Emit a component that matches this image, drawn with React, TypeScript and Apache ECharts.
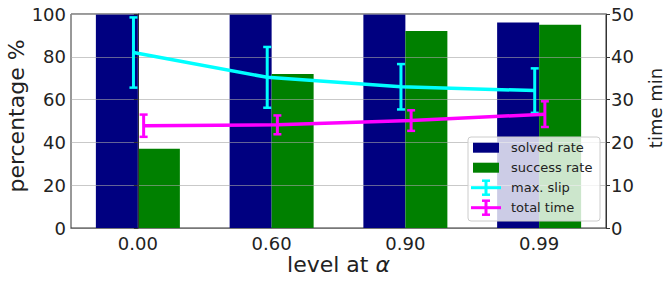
import React, { useEffect, useRef } from "react";
import * as echarts from "echarts";

const categories = ["0.00", "0.60", "0.90", "0.99"];
const solvedRate = [100, 100, 100, 96];
const successRate = [37, 72, 92, 95];
const maxSlip = [41.0, 35.2, 33.0, 32.1];
const maxSlipErr = [8.2, 7.1, 5.3, 5.2];
const totalTime = [23.9, 24.1, 25.1, 26.6];
const totalTimeErr = [2.6, 2.2, 2.4, 3.0];

const legendNames = ["solved rate", "success rate", "max. slip", "total time"];
const xName = "level at ";
const xNameGreek = "α";
const leftName = "percentage %";
const rightName = "time min";

const NAVY = "#000080";
const GREEN = "#008000";
const CYAN = "#00ffff";
const MAGENTA = "#ff00ff";
const FONT = "DejaVu Sans";
const SLIP_OFFSET = -0.033;
const TIME_OFFSET = 0.043;

function errorSeries(name: string, vals: number[], errs: number[], off: number, color: string) {
  return {
    name,
    type: "custom",
    xAxisIndex: 1,
    yAxisIndex: 1,
    z: 5,
    data: vals.map((v, i) => [i + off, v, errs[i]]),
    encode: { x: 0, y: 1 },
    renderItem: (params: any, api: any) => {
      const x = api.value(0);
      const y = api.value(1);
      const e = api.value(2);
      const top = api.coord([x, y + e]);
      const bot = api.coord([x, y - e]);
      const cw = 4;
      const st = { stroke: color, lineWidth: 2.5 };
      return {
        type: "group",
        children: [
          { type: "line", shape: { x1: top[0], y1: top[1], x2: bot[0], y2: bot[1] }, style: { stroke: color, lineWidth: 3 } },
          { type: "line", shape: { x1: top[0] - cw, y1: top[1], x2: top[0] + cw, y2: top[1] }, style: st },
          { type: "line", shape: { x1: bot[0] - cw, y1: bot[1], x2: bot[0] + cw, y2: bot[1] }, style: st },
        ],
      };
    },
  };
}

function legendGraphic() {
  const x0 = 468, y0 = 137, w = 132, h = 84;
  const rows = [147.7, 167.7, 187.7, 207.7];
  const colors = [NAVY, GREEN, CYAN, MAGENTA];
  const Z = 100;
  const elements: any[] = [
    { type: "rect", z: Z, shape: { x: x0, y: y0, width: w, height: h, r: 3 }, style: { fill: "rgba(255,255,255,0.8)", stroke: "#cccccc", lineWidth: 1 } },
  ];
  legendNames.forEach((name, i) => {
    const cy = rows[i];
    if (i < 2) {
      elements.push({ type: "rect", z: Z + 1, shape: { x: 473, y: cy - 5, width: 26, height: 10 }, style: { fill: colors[i] } });
    } else {
      const c = colors[i];
      elements.push({ type: "line", z: Z + 1, shape: { x1: 471, y1: cy, x2: 501, y2: cy }, style: { stroke: c, lineWidth: 3 } });
      elements.push({ type: "line", z: Z + 1, shape: { x1: 486, y1: cy - 7, x2: 486, y2: cy + 7 }, style: { stroke: c, lineWidth: 3 } });
      elements.push({ type: "line", z: Z + 1, shape: { x1: 482, y1: cy - 7, x2: 490, y2: cy - 7 }, style: { stroke: c, lineWidth: 2.5 } });
      elements.push({ type: "line", z: Z + 1, shape: { x1: 482, y1: cy + 7, x2: 490, y2: cy + 7 }, style: { stroke: c, lineWidth: 2.5 } });
    }
    elements.push({
      type: "text",
      z: Z + 1,
      x: 511,
      y: cy,
      style: { text: name, fontFamily: FONT, fontSize: 13, fill: "#222", verticalAlign: "middle", align: "left" },
    });
  });
  // axis titles
  elements.push({
    type: "text",
    z: Z,
    x: 338.5,
    y: 264,
    style: {
      text: `{n|${xName}}{i|${xNameGreek}}`,
      align: "center",
      verticalAlign: "middle",
      rich: {
        n: { fontFamily: FONT, fontSize: 22, fill: "#222" },
        i: { fontFamily: FONT, fontSize: 22, fontStyle: "italic", fill: "#222" },
      },
    },
  });
  elements.push({
    type: "text",
    z: Z,
    x: 16,
    y: 116,
    rotation: Math.PI / 2,
    style: { text: leftName, fontFamily: FONT, fontSize: 22, fill: "#222", align: "center", verticalAlign: "middle" },
  });
  elements.push({
    type: "text",
    z: Z,
    x: 655.5,
    y: 108,
    rotation: Math.PI / 2,
    style: { text: rightName, fontFamily: FONT, fontSize: 18, fill: "#222", align: "center", verticalAlign: "middle" },
  });
  return elements;
}

export default function App() {
  const ref = useRef<HTMLDivElement>(null);
  useEffect(() => {
    if (!ref.current) return;
    const chart = echarts.init(ref.current, undefined, { renderer: "svg" });
    const axisLabel = { fontFamily: FONT, fontSize: 18, color: "#222" };
    chart.setOption({
      animation: false,
      textStyle: { fontFamily: FONT },
      grid: {
        left: 71,
        right: 59,
        top: 14,
        bottom: 56,
        show: true,
        borderColor: "#333",
        borderWidth: 1,
        backgroundColor: "transparent",
        containLabel: false,
        outerBoundsMode: "none",
      },
      xAxis: [
        {
          type: "category",
          data: categories,
          boundaryGap: true,
          axisLine: { lineStyle: { color: "#333", width: 1 } },
          axisTick: { alignWithLabel: true, length: 4, lineStyle: { color: "#333" } },
          axisLabel: { ...axisLabel, margin: 6 },
        },
        { type: "value", min: -0.5, max: 3.5, show: false },
      ],
      yAxis: [
        {
          type: "value",
          min: 0,
          max: 100,
          interval: 20,
          z: 3,
          axisLine: { show: true, lineStyle: { color: "#333" } },
          axisTick: { show: true, length: 4, lineStyle: { color: "#333" } },
          axisLabel: { ...axisLabel, margin: 5 },
          splitLine: { show: true, lineStyle: { color: "rgba(165,165,165,0.6)", width: 1.2 } },
        },
        {
          type: "value",
          min: 0,
          max: 50,
          interval: 10,
          position: "right",
          axisLine: { show: true, lineStyle: { color: "#333" } },
          axisTick: { show: true, length: 4, lineStyle: { color: "#333" } },
          axisLabel: { ...axisLabel, margin: 5 },
          splitLine: { show: false },
        },
      ],
      series: [
        {
          name: "solved rate",
          type: "bar",
          data: solvedRate,
          barWidth: 42,
          barGap: "0%",
          itemStyle: { color: NAVY },
          z: 2,
        },
        {
          name: "success rate",
          type: "bar",
          data: successRate,
          barWidth: 42,
          barGap: "0%",
          itemStyle: { color: GREEN },
          z: 2,
        },
        {
          name: "max. slip",
          type: "line",
          xAxisIndex: 1,
          yAxisIndex: 1,
          data: maxSlip.map((v, i) => [i + SLIP_OFFSET, v]),
          symbol: "none",
          lineStyle: { color: CYAN, width: 3.5 },
          z: 5,
        },
        errorSeries("max. slip err", maxSlip, maxSlipErr, SLIP_OFFSET, CYAN),
        {
          name: "total time",
          type: "line",
          xAxisIndex: 1,
          yAxisIndex: 1,
          data: totalTime.map((v, i) => [i + TIME_OFFSET, v]),
          symbol: "none",
          lineStyle: { color: MAGENTA, width: 3.5 },
          z: 5,
        },
        errorSeries("total time err", totalTime, totalTimeErr, TIME_OFFSET, MAGENTA),
      ],
      graphic: legendGraphic(),
    });
    return () => chart.dispose();
  }, []);
  return <div ref={ref} style={{ width: 665, height: 284, position: "absolute", left: 0, top: 0 }} />;
}
